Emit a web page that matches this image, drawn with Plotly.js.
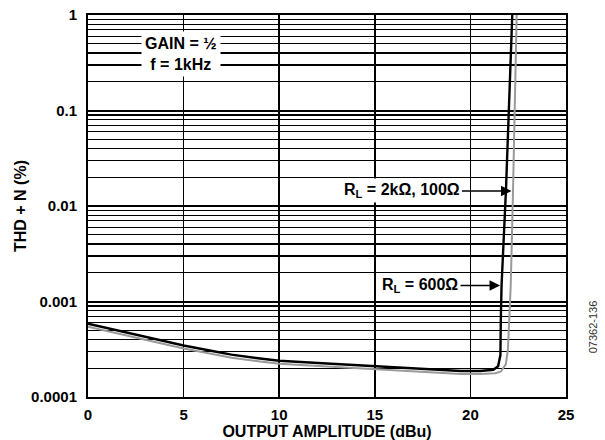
<!DOCTYPE html>
<html>
<head>
<meta charset="utf-8">
<script src="https://cdn.plot.ly/plotly-3.0.1.min.js"></script>
<style>html,body{margin:0;padding:0;background:#fff;}#chart{width:605px;height:440px;}</style>
</head>
<body>
<div id="chart"></div>
<script>
// Data
const xBlack = [0, 1, 2.5, 4, 5, 6.5, 7.5, 9, 10, 12.5, 15, 17.5, 19.5, 20.5, 21.2, 21.45, 21.57, 21.59, 21.63, 21.86, 21.99, 22.19];
const yBlack = [5.85e-4, 5.25e-4, 4.5e-4, 3.85e-4, 3.46e-4, 3.03e-4, 2.78e-4, 2.53e-4, 2.4e-4, 2.24e-4, 2.1e-4, 1.97e-4, 1.87e-4, 1.87e-4, 1.93e-4, 2.1e-4, 2.75e-4, 6.4e-4, 1.48e-3, 1.47e-2, 7.96e-2, 1];
const xGray = [0, 1, 2.5, 4, 5, 6.5, 7.5, 9, 10, 12.5, 15, 17.5, 19.5, 20.5, 21.3, 21.6, 21.85, 21.96, 22.03, 22.11, 22.23, 22.30, 22.42];
const yGray = [5.45e-4, 4.9e-4, 4.2e-4, 3.58e-4, 3.22e-4, 2.82e-4, 2.58e-4, 2.35e-4, 2.23e-4, 2.08e-4, 1.95e-4, 1.83e-4, 1.74e-4, 1.74e-4, 1.77e-4, 1.85e-4, 2.2e-4, 3.1e-4, 6.4e-4, 1.48e-3, 1.47e-2, 0.1, 1];
const yTickVals = [0.0001, 0.001, 0.01, 0.1, 1];
const yTickText = ["0.0001", "0.001", "0.01", "0.1", "1"];
const xTickVals = [0, 5, 10, 15, 20, 25];
const labelBlack = "R<sub>L</sub> = 2kΩ, 100Ω";
const labelGray = "R<sub>L</sub> = 600Ω";
const noteText = "GAIN = ½<br>f = 1kHz";
const figId = "07362-136";

const minorVals = [];
for (let d = -4; d < 0; d++) for (let m = 2; m <= 9; m++) minorVals.push(m * Math.pow(10, d));

const FONT = "Liberation Sans, Arial, Helvetica, sans-serif";
const traces = [
  {x: xGray, y: yGray, type: 'scatter', mode: 'lines', line: {color: '#9a9a9a', width: 2}, hoverinfo: 'skip'},
  {x: xBlack, y: yBlack, type: 'scatter', mode: 'lines', line: {color: '#000', width: 2.4}, hoverinfo: 'skip'}
];
const layout = {
  width: 605, height: 440,
  margin: {l: 88, r: 39, t: 15, b: 43},
  paper_bgcolor: '#fff', plot_bgcolor: '#fff',
  showlegend: false,
  font: {family: FONT, size: 15, color: '#000', weight: 'bold'},
  xaxis: {
    range: [0, 25], tickvals: xTickVals, ticktext: xTickVals.map(String),
    showgrid: true, gridcolor: '#000', gridwidth: 1.5,
    showline: true, linecolor: '#000', linewidth: 2, mirror: true,
    zeroline: false, ticks: 'outside', ticklen: 3, tickcolor: 'rgba(0,0,0,0)',
    tickfont: {family: FONT, size: 15, weight: 'bold'},
    title: {text: 'OUTPUT AMPLITUDE (dBu)', font: {family: FONT, size: 16, weight: 'bold'}, standoff: 1},
    automargin: false
  },
  yaxis: {
    type: 'log', range: [-4, 0], tickvals: yTickVals, ticktext: yTickText,
    showgrid: true, gridcolor: '#000', gridwidth: 2,
    minor: {tickvals: minorVals, showgrid: true, gridcolor: '#000', gridwidth: 1.3, ticks: ''},
    showline: true, linecolor: '#000', linewidth: 2, mirror: true,
    zeroline: false, ticks: 'outside', ticklen: 6, tickcolor: 'rgba(0,0,0,0)',
    tickfont: {family: FONT, size: 15, weight: 'bold'},
    title: {text: 'THD + N (%)', font: {family: FONT, size: 16, weight: 'bold'}, standoff: 1},
    automargin: false
  },
  annotations: [
    {x: 4.87, y: -0.41, xref: 'x', yref: 'y', text: noteText, showarrow: false,
     bgcolor: '#fff', borderpad: 3, font: {family: FONT, size: 16, weight: 'bold'}},
    {x: 22.15, y: Math.log10(0.0144), xref: 'x', yref: 'y', text: labelBlack, showarrow: true,
     ax: -110, ay: 0, arrowhead: 2, arrowsize: 1.4, arrowwidth: 1.5, arrowcolor: '#000',
     bgcolor: '#fff', borderpad: 2, font: {family: FONT, size: 16, weight: 'bold'}},
    {x: 21.55, y: Math.log10(0.00147), xref: 'x', yref: 'y', text: labelGray, showarrow: true,
     ax: -80, ay: 0, arrowhead: 2, arrowsize: 1.4, arrowwidth: 1.5, arrowcolor: '#000',
     bgcolor: '#fff', borderpad: 2, font: {family: FONT, size: 16, weight: 'bold'}},
    {x: 1.075, y: 0.11, xref: 'paper', yref: 'paper', text: figId, showarrow: false,
     textangle: -90, font: {family: FONT, size: 11, color: '#333', weight: 'normal'}}
  ]
};
Plotly.newPlot('chart', traces, layout, {staticPlot: true, displayModeBar: false});
</script>
</body>
</html>
